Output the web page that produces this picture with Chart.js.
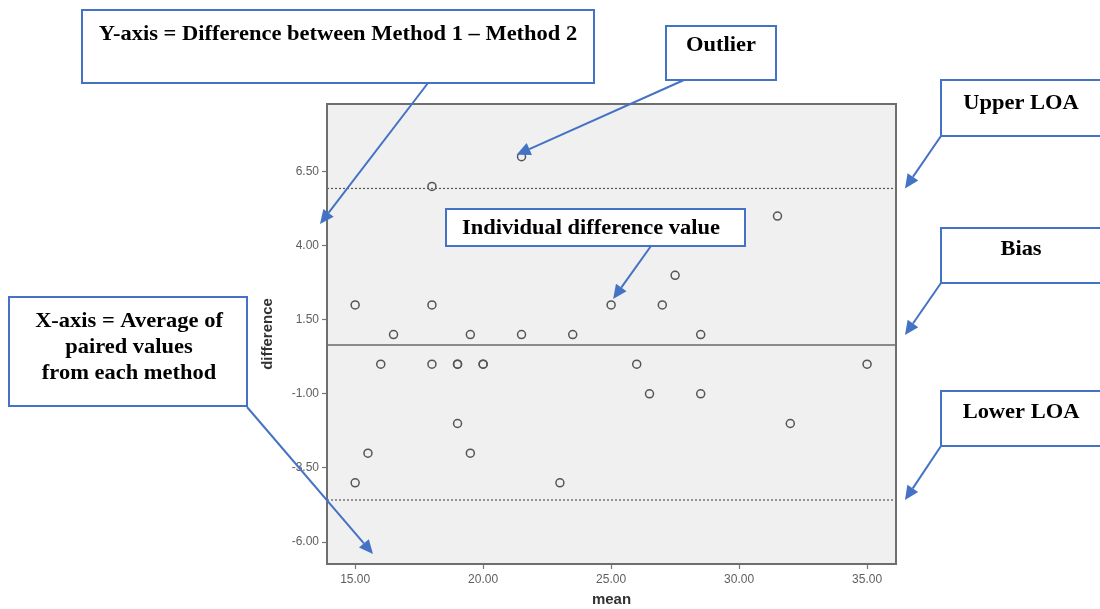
<!DOCTYPE html>
<html>
<head>
<meta charset="utf-8">
<script src="https://cdn.jsdelivr.net/npm/chart.js@4.4.1/dist/chart.umd.min.js"></script>
<style>
  html, body { margin: 0; padding: 0; background: #ffffff; }
  #wrap { width: 1100px; height: 609px; position: relative; }
</style>
</head>
<body>
<div id="wrap"><canvas id="c" width="1100" height="609"></canvas></div>
<script>
// ---- data ----
const meanValues = [15, 15, 15.5, 16, 16.5, 18, 18, 18, 19, 19, 19, 19.5, 19.5, 20, 20,
                    21.5, 21.5, 22.5, 23, 23.5, 25, 26, 26.5, 27, 27.5, 28.5, 28.5, 31.5, 32, 35];
const diffValues = [2, -4, -3, 0, 1, 6, 2, 0, 0, 0, -2, 1, -3, 0, 0,
                    7, 1, 5, -4, 1, 2, 0, -1, 2, 3, 1, -1, 5, -2, 0];
const xTickValues = [15, 20, 25, 30, 35];
const yTickValues = [6.5, 4, 1.5, -1, -3.5, -6];
const biasValue = 0.65;
const upperLOA = 5.93;
const lowerLOA = -4.58;
const xRange = [13.9, 36.13];
const yRange = [-6.74, 8.78];

const points = meanValues.map((m, i) => ({ x: m, y: diffValues[i] }));

const BLUE = '#4472C4';
const SERIF = 'bold 21px "Liberation Serif", "Times New Roman", serif';
const TEXT_STRETCH = 1.07;

function arrow(ctx, x1, y1, x2, y2) {
  const ang = Math.atan2(y2 - y1, x2 - x1);
  const L = 14, W = 6.5;
  const bx = x2 - L * Math.cos(ang), by = y2 - L * Math.sin(ang);
  ctx.save();
  ctx.strokeStyle = BLUE; ctx.fillStyle = BLUE; ctx.lineWidth = 2;
  ctx.beginPath(); ctx.moveTo(x1, y1); ctx.lineTo(bx, by); ctx.stroke();
  ctx.beginPath();
  ctx.moveTo(x2, y2);
  ctx.lineTo(bx + W * Math.sin(ang), by - W * Math.cos(ang));
  ctx.lineTo(bx - W * Math.sin(ang), by + W * Math.cos(ang));
  ctx.closePath(); ctx.fill();
  ctx.restore();
}
function box(ctx, x, y, w, h, lines, tx, ty, lh) {
  ctx.save();
  ctx.fillStyle = '#ffffff';
  ctx.fillRect(x, y, w, h);
  ctx.strokeStyle = BLUE; ctx.lineWidth = 2;
  ctx.strokeRect(x, y, w, h);
  ctx.fillStyle = '#000000';
  ctx.font = SERIF;
  ctx.textAlign = 'center'; ctx.textBaseline = 'middle';
  lines.forEach((t, i) => {
    ctx.save();
    ctx.translate(tx, ty + i * (lh || 0));
    ctx.scale(TEXT_STRETCH, 1);
    ctx.fillText(t, 0, 0);
    ctx.restore();
  });
  ctx.restore();
}

const framePlugin = {
  id: 'frame',
  beforeDraw(chart) {
    const { ctx, chartArea: a } = chart;
    ctx.save();
    ctx.fillStyle = '#ffffff';
    ctx.fillRect(0, 0, chart.width, chart.height);
    ctx.fillStyle = '#f0f0f0';
    ctx.fillRect(a.left, a.top, a.right - a.left, a.bottom - a.top);
    ctx.restore();
  },
  beforeDatasetsDraw(chart) {
    const { ctx, chartArea: a, scales: { y } } = chart;
    ctx.save();
    ctx.strokeStyle = '#8a8a8a'; ctx.lineWidth = 2;
    const yb = y.getPixelForValue(biasValue);
    ctx.beginPath(); ctx.moveTo(a.left, yb); ctx.lineTo(a.right, yb); ctx.stroke();
    ctx.strokeStyle = '#555555'; ctx.lineWidth = 1.2; ctx.setLineDash([2, 2]);
    [upperLOA, lowerLOA].forEach(v => {
      const yy = y.getPixelForValue(v);
      ctx.beginPath(); ctx.moveTo(a.left, yy); ctx.lineTo(a.right, yy); ctx.stroke();
    });
    ctx.setLineDash([]);
    ctx.strokeStyle = '#6e6e6e'; ctx.lineWidth = 2;
    ctx.strokeRect(a.left, a.top, a.right - a.left, a.bottom - a.top);
    ctx.restore();
  },
  afterDraw(chart) {
    const { ctx, chartArea: a, scales: { x, y } } = chart;
    box(ctx, 82, 10, 512, 73, ['Y-axis = Difference between Method 1 – Method 2'], 338, 35);
    arrow(ctx, 428, 83, 320, 224);
    box(ctx, 666, 26, 110, 54, ['Outlier'], 721, 46);
    arrow(ctx, 684, 80, x.getPixelForValue(21.5) - 5, y.getPixelForValue(7) - 2);
    box(ctx, 941, 80, 165, 56, ['Upper LOA'], 1021, 104);
    arrow(ctx, 941, 136, a.right + 9, y.getPixelForValue(upperLOA));
    box(ctx, 941, 228, 165, 55, ['Bias'], 1021, 250);
    arrow(ctx, 941, 283, a.right + 9, y.getPixelForValue(biasValue) - 10);
    box(ctx, 941, 391, 165, 55, ['Lower LOA'], 1021, 413);
    arrow(ctx, 941, 446, a.right + 9, y.getPixelForValue(lowerLOA));
    box(ctx, 446, 209, 299, 37, ['Individual difference value'], 591, 229);
    arrow(ctx, 651, 246, x.getPixelForValue(25) + 2, y.getPixelForValue(2) - 6);
    box(ctx, 9, 297, 238, 109, ['X-axis = Average of', 'paired values', 'from each method'], 129, 322, 26);
    arrow(ctx, 247, 407, 373, 554);
  }
};

new Chart(document.getElementById('c'), {
  type: 'scatter',
  data: {
    datasets: [{
      data: points,
      pointStyle: 'circle',
      pointRadius: 4,
      pointHoverRadius: 4,
      pointBorderWidth: 1.5,
      borderColor: '#555555',
      backgroundColor: 'rgba(0,0,0,0)'
    }]
  },
  options: {
    responsive: false,
    animation: false,
    events: [],
    layout: { padding: { left: 255, right: 204, top: 104, bottom: 0 } },
    plugins: { legend: { display: false }, tooltip: { enabled: false } },
    scales: {
      x: {
        type: 'linear',
        min: xRange[0], max: xRange[1],
        afterBuildTicks: s => { s.ticks = xTickValues.map(v => ({ value: v })); },
        afterFit: s => { s.height = 45; },
        grid: { drawOnChartArea: false, drawTicks: true, tickLength: 5, tickColor: '#777777', tickWidth: 1.2 },
        border: { display: false },
        ticks: {
          padding: 3, autoSkip: false, maxRotation: 0,
          color: '#5e5e5e',
          font: { family: '"Liberation Sans", Arial, sans-serif', size: 12 },
          callback: v => Number(v).toFixed(2)
        },
        title: {
          display: true, text: 'mean', color: '#333333',
          padding: { top: 4, bottom: 0 },
          font: { family: '"Liberation Sans", Arial, sans-serif', size: 15, weight: 'bold' }
        }
      },
      y: {
        type: 'linear',
        min: yRange[0], max: yRange[1],
        afterBuildTicks: s => { s.ticks = yTickValues.map(v => ({ value: v })); },
        afterFit: s => { s.width = 72; },
        grid: { drawOnChartArea: false, drawTicks: true, tickLength: 5, tickColor: '#777777', tickWidth: 1.2 },
        border: { display: false },
        ticks: {
          padding: 3, autoSkip: false,
          color: '#5e5e5e',
          font: { family: '"Liberation Sans", Arial, sans-serif', size: 12 },
          callback: v => Number(v).toFixed(2)
        },
        title: {
          display: true, text: 'difference', color: '#333333',
          padding: { top: 4, bottom: 4 },
          font: { family: '"Liberation Sans", Arial, sans-serif', size: 15, weight: 'bold' }
        }
      }
    }
  },
  plugins: [framePlugin]
});
</script>
</body>
</html>
